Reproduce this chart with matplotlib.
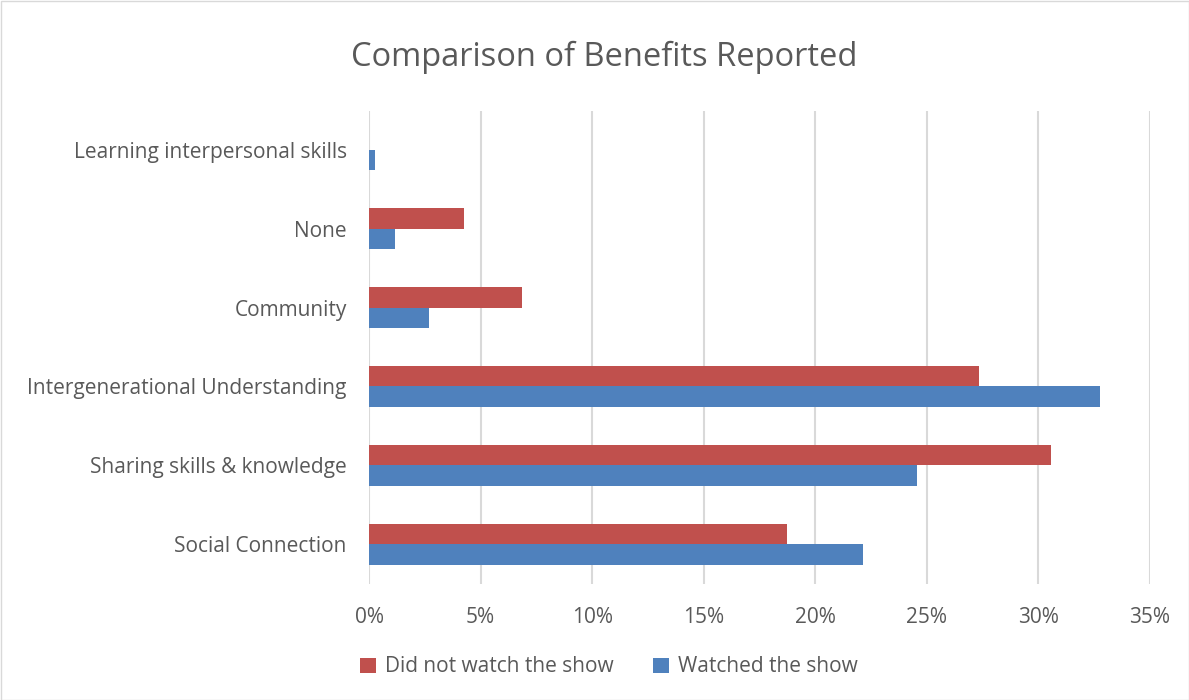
import numpy as np
import matplotlib.pyplot as plt
from matplotlib.ticker import PercentFormatter
from matplotlib.patches import Rectangle

categories = ['Social Connection', 'Sharing skills & knowledge',
              'Intergenerational Understanding', 'Community', 'None',
              'Learning interpersonal skills']
did_not_watch = [18.73, 30.55, 27.35, 6.87, 4.27, 0.0]
watched = [22.15, 24.54, 32.77, 2.70, 1.15, 0.26]

plt.rcParams['font.family'] = ['Open Sans', 'DejaVu Sans']
txt = '#595959'
red = '#c0504d'
blue = '#4f81bd'

fig = plt.figure(figsize=(11.89, 7.0), dpi=100)
ax = fig.add_axes([369 / 1189, 1 - 583.5 / 700, (1150 - 369) / 1189, 473 / 700])

y = np.arange(len(categories))
h = 0.26
ax.barh(y + h / 2, did_not_watch, height=h, color=red, label='Did not watch the show', zorder=3)
ax.barh(y - h / 2, watched, height=h, color=blue, label='Watched the show', zorder=3)

ax.set_xlim(0, 35)
ax.set_ylim(-0.5, len(categories) - 0.5)
ax.set_xticks(np.arange(0, 36, 5))
ax.xaxis.set_major_formatter(PercentFormatter(decimals=0))
ax.set_yticks(y)
ax.set_yticklabels(categories)
ax.tick_params(axis='both', length=0, labelsize=15, colors=txt)
ax.tick_params(axis='y', pad=16)
ax.tick_params(axis='x', pad=17)
ax.grid(axis='x', color='#d9d9d9', linewidth=1.5, zorder=0)
for s in ax.spines.values():
    s.set_visible(False)

fig.suptitle('Comparison of Benefits Reported', x=604.5 / 1189, y=1 - 57 / 700, va='center',
             fontsize=23.5, color=txt)

fig.legend(loc='center', bbox_to_anchor=(609 / 1189, 1 - 667 / 700), ncol=2, frameon=False,
           fontsize=15, labelcolor=txt, handlelength=0.75, handleheight=0.75,
           handletextpad=0.45, columnspacing=1.9)

fig.patches.append(Rectangle((0.5 / 1189, 0.5 / 700), 1 - 1 / 1189, 1 - 1 / 700,
                             transform=fig.transFigure, fill=False,
                             edgecolor='#d9d9d9', linewidth=1))

fig.savefig('out.png', dpi=100)
